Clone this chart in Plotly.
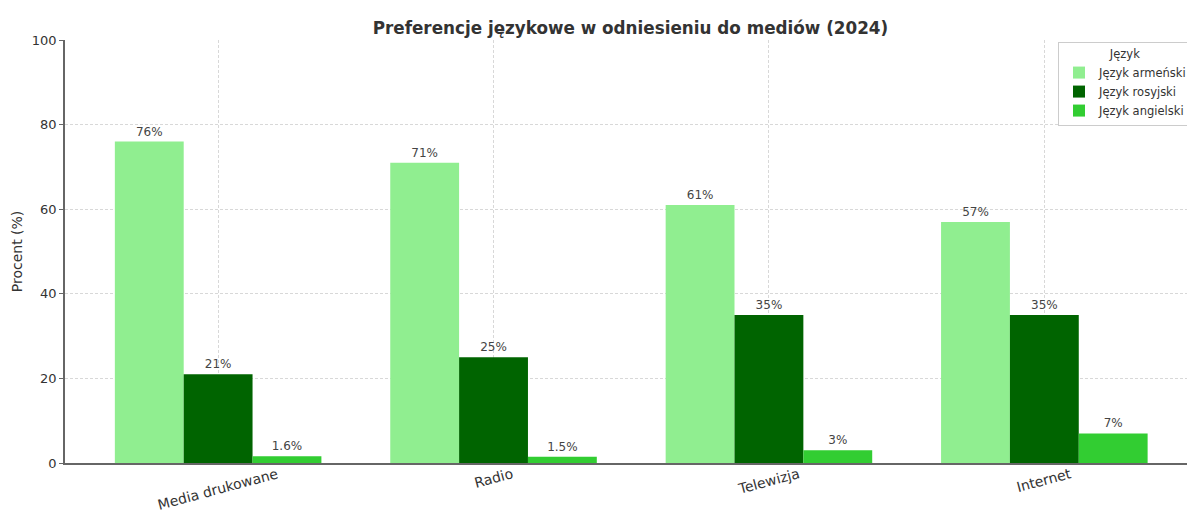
import plotly.graph_objects as go

categories = ["Media drukowane", "Radio", "Telewizja", "Internet"]
armenian = [76, 71, 61, 57]
russian = [21, 25, 35, 35]
english = [1.6, 1.5, 3, 7]
series_names = ["Język armeński", "Język rosyjski", "Język angielski"]
colors = ["#90EE90", "#006400", "#32CD32"]

fig = go.Figure()
for name, vals, col in zip(series_names, [armenian, russian, english], colors):
    fig.add_trace(go.Bar(
        x=categories, y=vals, name=name, marker_color=col, marker_line_width=0,
        text=[f"{v:g}%" for v in vals], textposition="outside",
        textfont=dict(size=12, color="#444444", family="DejaVu Sans"),
        cliponaxis=False,
    ))

# category labels, rotated and centred under each group
for cat in categories:
    fig.add_annotation(
        x=cat, xref="x", y=0, yref="paper", yshift=0,
        text=cat, showarrow=False, textangle=-15,
        xanchor="center", yanchor="top",
        font=dict(size=14, color="#333333", family="DejaVu Sans"),
    )

fig.update_layout(
    width=1187, height=511,
    margin=dict(l=65, r=0, t=40, b=48, autoexpand=False),
    paper_bgcolor="white", plot_bgcolor="white",
    font=dict(family="DejaVu Sans", size=13, color="#333333"),
    barmode="group", bargap=0.25, bargroupgap=0,
    title=dict(text="<b>Preferencje językowe w odniesieniu do mediów (2024)</b>",
               xref="paper", x=0.504, xanchor="center", y=0.945, yanchor="middle",
               font=dict(size=16.8, color="#333333")),
    legend=dict(
        title=dict(text="Język", side="top center", font=dict(size=11.5, color="#333333")),
        x=(1058 - 65) / 1122, xanchor="left", y=0.995, yanchor="top",
        bgcolor="white", bordercolor="#cccccc", borderwidth=1,
        font=dict(size=11.5, color="#333333"),
        itemwidth=30, tracegroupgap=0,
    ),
    showlegend=True,
)
fig.update_xaxes(
    type="category", range=[-0.556, 3.518], automargin=False,
    showticklabels=False,
    showgrid=True, gridcolor="#d8d8d8", griddash="3px,2px", gridwidth=0.8,
    showline=True, linecolor="#666666", linewidth=1.5,
    ticks="",
)
fig.update_yaxes(
    range=[0, 100], dtick=20, automargin=False,
    title=dict(text="Procent (%)", font=dict(size=14, color="#333333"), standoff=6),
    tickfont=dict(size=13, color="#333333"),
    showgrid=True, gridcolor="#d8d8d8", griddash="3px,2px", gridwidth=0.8,
    showline=True, linecolor="#666666", linewidth=1.5,
    ticks="outside", ticklen=4, tickcolor="#666666",
    zeroline=False,
)
fig.write_html("out.html", config={"displayModeBar": False},
               post_script="document.body.style.margin='0';document.body.style.overflow='hidden';")
